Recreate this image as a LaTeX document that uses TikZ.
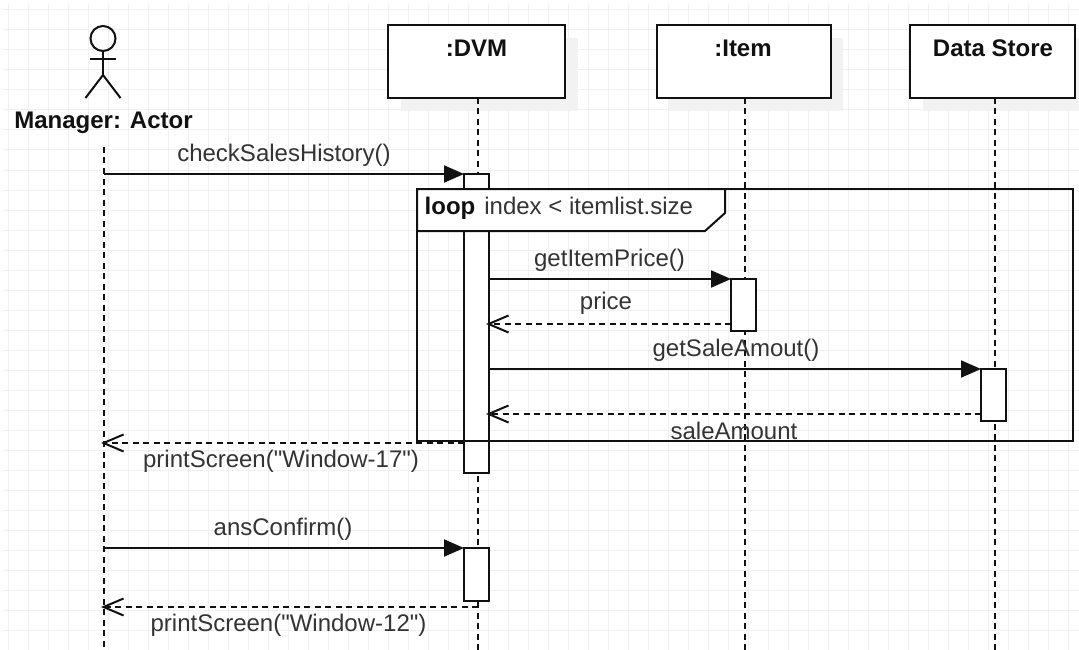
\documentclass[tikz,border=0pt]{standalone}
\usepackage{fontspec}
\setmainfont{Liberation Sans}[Ligatures=TeXOff]
\usetikzlibrary{arrows.meta,positioning}
\definecolor{gridcolor}{RGB}{240,240,240}
\definecolor{shadowcolor}{RGB}{242,242,242}
\definecolor{labelcolor}{RGB}{51,51,51}
\definecolor{linecolor}{RGB}{17,17,17}
\tikzset{
  gridline/.style={gridcolor,line width=1pt},
  headbox/.style={draw=linecolor,line width=2pt,fill=white,minimum width=#1,minimum height=73pt,inner sep=0pt,outer sep=0pt,anchor=north west},
  shadowbox/.style={fill=shadowcolor,draw=none,minimum width=#1,minimum height=73pt,inner sep=0pt,outer sep=0pt,anchor=north west},
  headtext/.style={font=\fontsize{24}{26}\selectfont\bfseries,text=linecolor,inner sep=0pt},
  msgtext/.style={font=\fontsize{24}{26}\selectfont,text=labelcolor,inner sep=0pt},
  activation/.style={draw=linecolor,line width=2pt,fill=white,minimum width=25pt,minimum height=#1,inner sep=0pt,outer sep=0pt,anchor=north west},
  lifeline/.style={linecolor,line width=2pt,dash pattern=on 6pt off 4.5pt},
  call/.style={linecolor,line width=2pt,-{Triangle[length=20pt,width=17pt]}},
  reply/.style={linecolor,line width=2pt,dash pattern=on 6pt off 4.5pt,shorten >=-3pt,-{Straight Barb[length=20pt,width=17pt,line width=2pt]}},
  limb/.style={linecolor,line width=2pt}
}
\begin{document}
\begin{tikzpicture}[x=1pt,y=-1pt]
\useasboundingbox (0,0) rectangle (1079,650);
\fill[white] (0,0) rectangle (1079,650);

% paper grid
\foreach \gx in {8,28,...,1078} \draw[gridline] (\gx,4) -- (\gx,650);
\foreach \gy in {10,30,...,650} \draw[gridline] (3,\gy) -- (1079,\gy);

% heads
\node[shadowbox=177pt] (dvmShadow) at (401,38) {};
\node[shadowbox=174pt] (itemShadow) at (669,38) {};
\node[shadowbox=165pt] (storeShadow) at (923,38) {};
\node[headbox=177pt] (dvm) at (388,25) {};
\node[headbox=174pt] (item) at (656.5,25) {};
\node[headbox=165pt] (store) at (910,25) {};
\node[headtext] (dvmText) at (476.5,48.5) {:DVM};
\node[headtext] (itemText) at (743,48.5) {:Item};
\node[headtext] (storeText) at (993,48.5) {Data Store};

% actor
\node[draw=linecolor,line width=2pt,circle,minimum size=25pt,inner sep=0pt] (head) at (103,38.5) {};
\coordinate (hip) at (103,75);
\coordinate (armL) at (90,59);
\coordinate (armR) at (116,59);
\coordinate (footL) at (85.5,98);
\coordinate (footR) at (120.5,98);
\draw[limb] (head.south) -- (hip);
\draw[limb] (armL) -- (armR);
\draw[limb] (footL) -- (hip) -- (footR);
\node[headtext] (actorText) at (103.5,122.5) {Manager: Actor};

% lifelines
\coordinate (actorTop) at (104,147);
\coordinate (actorEnd) at (104,650);
\coordinate (dvmEnd) at (478,650);
\coordinate (itemEnd) at (745,650);
\coordinate (storeEnd) at (995,650);
\draw[lifeline] (actorTop) -- (actorEnd);
\draw[lifeline] (dvm.south -| dvmEnd) -- (dvmEnd);
\draw[lifeline] (item.south -| itemEnd) -- (itemEnd);
\draw[lifeline] (store.south -| storeEnd) -- (storeEnd);

% activations
\node[activation=299pt] (dvmBar) at (464,174) {};
\node[activation=53pt] (dvmBarB) at (464,548) {};
\node[activation=52pt] (itemBar) at (731,279) {};
\node[activation=52pt] (storeBar) at (981,369) {};

% loop frame
\draw[linecolor,line width=2pt] (417,189) rectangle (1073,441);
\fill[white,draw=linecolor,line width=2pt] (417,189) -- (725,189) -- (725,213) -- (705,231) -- (417,231) -- cycle;
\node[msgtext,anchor=west] (loopText) at (424.5,208.5) {\textbf{\textcolor{linecolor}{loop}}\hspace{9pt}index < itemlist.size};

% messages
\coordinate (m1) at (104,174);
\coordinate (m2) at (104,443);
\coordinate (m3) at (104,548);
\coordinate (m4) at (104,607);
\coordinate (m4b) at (478,607);
\coordinate (r1) at (731,324);
\coordinate (r2) at (981,414);
\draw[call] (m1) -- (dvmBar.north west);
\draw[call] (itemBar.north west -| dvmBar.east) -- (itemBar.north west);
\draw[reply] (r1) -- (dvmBar.east |- r1);
\draw[call] (storeBar.north west -| dvmBar.east) -- (storeBar.north west);
\draw[reply] (r2) -- (dvmBar.east |- r2);
\draw[reply] (dvmBar.west |- m2) -- (m2);
\draw[call] (m3) -- (dvmBarB.north west);
\draw[reply] (m4b) -- (m4);

\node[msgtext] (checkText) at (284,155.5) {checkSalesHistory()};
\node[msgtext] (priceCall) at (609.5,260.5) {getItemPrice()};
\node[msgtext] (priceText) at (606,303.5) {price};
\node[msgtext] (saleCall) at (736,350) {getSaleAmout()};
\node[msgtext] (saleText) at (734,431) {saleAmount};
\node[msgtext] (windowA) at (281,461.5) {printScreen("Window-17")};
\node[msgtext] (ansText) at (283,529.5) {ansConfirm()};
\node[msgtext] (windowB) at (288.5,625.5) {printScreen("Window-12")};
\end{tikzpicture}
\end{document}
